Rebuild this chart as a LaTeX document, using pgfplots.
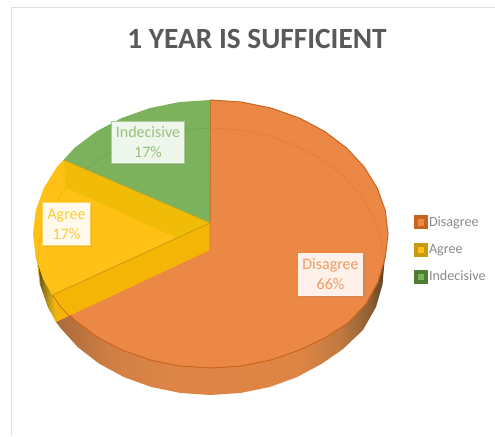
\documentclass[border=0pt]{standalone}
\usepackage{pgfplots}
\pgfplotsset{compat=1.18}
\usepackage{fontspec}
\setmainfont{Carlito}
\usetikzlibrary{shadows}

\definecolor{orangeTop}{HTML}{EC8845}
\definecolor{orangeEdge}{HTML}{C8641F}
\definecolor{orangeRing}{HTML}{E57F36}
\definecolor{greenTop}{HTML}{7BB25B}
\definecolor{greenKey}{HTML}{4E7D34}
\definecolor{greenRing}{HTML}{72A855}
\definecolor{yellowTop}{HTML}{FFC116}
\definecolor{yellowWall}{HTML}{F1BC07}
\definecolor{yellowBand}{HTML}{F4B507}
\definecolor{yellowEdge}{HTML}{C89A12}
\definecolor{yellowRing}{HTML}{F5B80E}
\definecolor{titleGrey}{HTML}{595959}
\definecolor{legendGrey}{HTML}{8A8A8A}
\definecolor{frameGrey}{HTML}{DEDEDE}

% Stops of the rim shadings
\definecolor{ro1}{HTML}{A8693C}
\definecolor{ro2}{HTML}{CF7F44}
\definecolor{ro3}{HTML}{DD8547}
\definecolor{ro4}{HTML}{DE8545}
\definecolor{ro5}{HTML}{C07A40}
\definecolor{ro6}{HTML}{8E5F33}
\definecolor{ro7}{HTML}{5A4122}
\definecolor{ry1}{HTML}{3C320A}
\definecolor{ry2}{HTML}{967A14}
\definecolor{ry3}{HTML}{D7AA14}
\definecolor{ry4}{HTML}{E8B010}

% Horizontal shading of the visible rim: dark at both ends, plain orange in front
\pgfdeclarehorizontalshading{rimOrange}{100bp}{
  color(0bp)=(ro1);
  color(25bp)=(ro1);
  color(33.6bp)=(ro2);
  color(42.6bp)=(ro3);
  color(62.2bp)=(ro4);
  color(68.2bp)=(ro5);
  color(72.7bp)=(ro6);
  color(75bp)=(ro7);
  color(100bp)=(ro7)}
\pgfdeclarehorizontalshading{rimYellow}{100bp}{
  color(0bp)=(ry1);
  color(25bp)=(ry1);
  color(45bp)=(ry2);
  color(65bp)=(ry3);
  color(75bp)=(ry4);
  color(100bp)=(ry4)}

\tikzset{
  datalabel/.style={inner sep=0pt, align=center, font=\fontsize{12}{15}\selectfont,
    drop shadow={shadow xshift=1pt, shadow yshift=-1pt, opacity=.22}},
}

\begin{document}
\begin{tikzpicture}
\useasboundingbox (0,0) rectangle (371.25pt,327pt);
\begin{axis}[
  at={(0,0)}, anchor=south west,
  scale only axis, width=371.25pt, height=327pt,
  xmin=0, xmax=495, ymin=0, ymax=436, y dir=reverse,
  hide axis, clip=false,
  every axis plot/.append style={forget plot},
  legend entries={Disagree,Agree,Indecisive},
  legend style={at={(0.8365,0.4275)}, anchor=west, draw=none, fill=none,
    font=\fontsize{10.6}{12}\selectfont, text=legendGrey, row sep=10.4pt,
    inner sep=0pt, outer sep=0pt, nodes={inner sep=0pt}},
  legend cell align=left,
]
% Legend keys
\addlegendimage{legend image code/.code={
  \fill[orangeEdge] (0pt,-4.9pt) rectangle (9.9pt,4.9pt);
  \fill[orangeTop] (2.9pt,-2pt) rectangle (7pt,2pt);
  \path[draw=none, fill=none] (0pt,0pt) -- (11pt,0pt);}}
\addlegendimage{legend image code/.code={
  \fill[yellowEdge] (0pt,-4.9pt) rectangle (9.9pt,4.9pt);
  \fill[yellowTop] (2.9pt,-2pt) rectangle (7pt,2pt);
  \path[draw=none, fill=none] (0pt,0pt) -- (11pt,0pt);}}
\addlegendimage{legend image code/.code={
  \fill[greenKey] (0pt,-4.9pt) rectangle (9.9pt,4.9pt);
  \fill[greenTop] (2.9pt,-2pt) rectangle (7pt,2pt);
  \path[draw=none, fill=none] (0pt,0pt) -- (11pt,0pt);}}

% Chart frame
\addplot[frameGrey, line width=1.2pt] coordinates {(11.5,436) (11.5,7.5) (495,7.5)};

% Rim below the Agree slice
\addplot[shading=rimYellow, draw=none] coordinates {
  (52.5,295) (43.7,279.8) (35.7,257.3) (37.5,261.5) (40.1,284.7) (47.9,307.2) (56,322)};

% Rim below the Disagree slice
\addplot[shading=rimOrange, draw=none] coordinates {
  (385.3,257.3) (378,282) (366,304) (348,323) (324.6,338) (299.3,350)
  (271.2,359.9) (241.3,366) (210.5,368) (179.7,366) (149.8,359.9) (121.7,350)
  (96.4,336.6) (74.5,320.1) (56.8,301) (52.5,295) (56,322) (60.7,328.3) (78,347.3)
  (99.3,363.8) (124,377.1) (151.3,387) (180.5,393) (210.5,395) (240.5,393)
  (269.7,387) (297,377.1) (321.7,363.8) (343,349) (363,330) (376,307)
  (382.5,284.7) (384.5,261.5)};

% Disagree, 66%
\addplot[fill=orangeTop, draw=orangeEdge, line width=0.75pt] coordinates {
  (210,223) (210.5,100) (241.3,102) (271.2,108.1) (299.3,118) (324.6,131.4)
  (346.5,147.9) (364.2,167) (377.3,188.2) (385.3,210.7) (388,234) (385.3,257.3)
  (378,282) (366,304) (348,323) (324.6,338) (299.3,350) (271.2,359.9)
  (241.3,366) (210.5,368) (179.7,366) (149.8,359.9) (121.7,350) (96.4,336.6)
  (74.5,320.1) (56.8,301) (52.5,295)};

% Agree, 17%
\addplot[fill=yellowTop, draw=none] coordinates {
  (210,223) (52.5,295) (43.7,279.8) (35.7,257.3) (33,234) (35.7,210.7) (43.7,188.2)
  (56.8,167) (63.5,160)};

% Indecisive, 17%
\addplot[fill=greenTop, draw=none] coordinates {
  (210,223) (63.5,160) (74.5,147.9) (96.4,131.4) (121.7,118) (149.8,108.1)
  (179.7,102) (210.5,100)};

% Far rim, visible through the slices
\addplot[orangeRing, line width=0.6pt] coordinates {
  (210.5,128) (240.5,130) (269.7,136.1) (297,145.9) (321.7,159.2) (343,175.7)
  (360.3,194.7) (373.1,215.8) (380.9,238.3) (383.5,261.5)};
\addplot[greenRing, line width=0.6pt] coordinates {
  (66,187.5) (78,175.7) (99.3,159.2) (124,145.9) (151.3,136.1) (180.5,130) (210.5,128)};
\addplot[yellowRing, line width=0.6pt] coordinates {
  (66,187.5) (60.7,194.7) (47.9,215.8) (40.1,238.3) (37.5,261.5) (40.1,284.7)};

% Cut faces of the Agree slice
\addplot[fill=yellowWall, draw=none] coordinates {
  (63.5,160) (210,223) (176.7,238) (66,187.5)};
\addplot[fill=yellowBand, draw=none] coordinates {
  (210,223) (210,250) (56,322) (52.5,295)};
\addplot[yellowEdge, line width=0.6pt] coordinates {(210,223) (52.5,295)};
\addplot[yellowEdge!70!yellowTop, line width=0.5pt] coordinates {(210,223) (63.5,160)};
\addplot[orangeEdge!80!yellowEdge, line width=0.5pt, opacity=.7] coordinates {(210.5,100) (210,223) (210,250)};
\addplot[orangeEdge, line width=0.5pt] coordinates {(52.5,295) (60,306) (70,317) (74.5,320.1)};

% Title and value labels
\node[text=titleGrey, font=\fontsize{22}{26}\bfseries\selectfont] at (axis cs:257,38.5) {1 YEAR IS SUFFICIENT};

\node[datalabel, fill=white!88!greenTop, draw=greenTop!65!white, line width=0.75pt,
  text=greenTop!80!white, minimum width=55pt, minimum height=32pt]
  at (axis cs:148,142.5) {Indecisive\\17\%};
\node[datalabel, fill=white!92!yellowTop, draw=yellowTop!70!white, line width=0.75pt,
  text=yellowTop!85!white, minimum width=35.5pt, minimum height=32pt]
  at (axis cs:66.5,224) {Agree\\17\%};
\node[datalabel, fill=white!88!orangeTop, draw=none,
  text=orangeTop!85!white, minimum width=49pt, minimum height=32pt]
  at (axis cs:330.5,274.5) {Disagree\\66\%};
\end{axis}
\end{tikzpicture}
\end{document}
